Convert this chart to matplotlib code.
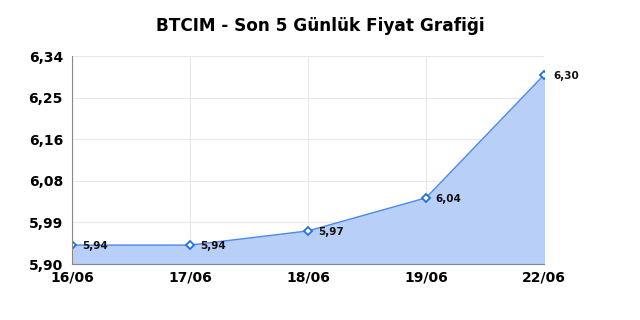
import matplotlib
matplotlib.use("Agg")
import matplotlib.pyplot as plt
import numpy as np

dates = ["16/06", "17/06", "18/06", "19/06", "22/06"]
prices = [5.94, 5.94, 5.97, 6.04, 6.30]
y_min, y_max = 5.90, 6.34

fig = plt.figure(figsize=(6.4, 3.2), dpi=100)
ax = fig.add_axes([72/640, 1 - 264/320, (544-72)/640, (264-56)/320])

x = np.arange(len(dates))
ax.fill_between(x, y_min, prices, color="#b8d0f8", zorder=2)
ax.plot(x, prices, color="#4f88f0", lw=1, zorder=3)
ax.plot(x, prices, ls="none", marker="D", ms=4.5, mfc="white", mec="#1f6fe8", mew=1.3, zorder=4)
for xi, p in zip(x, prices):
    ax.annotate(f"{p:.2f}".replace(".", ","), (xi, p), xytext=(7, -1), textcoords="offset points",
                va="center", ha="left", fontsize=7.5, fontweight="bold", color="#111111", zorder=5)

ax.set_xlim(0, len(dates) - 1)
ax.set_ylim(y_min, y_max)
yt = np.linspace(y_min, y_max, 6)
ax.set_yticks(yt)
ax.set_yticklabels([f"{v:.2f}".replace(".", ",") for v in yt])
ax.set_xticks(x)
ax.set_xticklabels(dates)
for lab in ax.get_xticklabels() + ax.get_yticklabels():
    lab.set_fontweight("bold")
    lab.set_fontsize(10)
ax.tick_params(length=0)
ax.tick_params(axis="x", pad=4.5)
ax.tick_params(axis="y", pad=6.5)
ax.grid(True, color="#e8e8e8", lw=0.8, zorder=0)
for s in ["top", "right"]:
    ax.spines[s].set_visible(False)
for s in ["left", "bottom"]:
    ax.spines[s].set_color("#888888")
    ax.spines[s].set_zorder(6)

fig.text(0.5, 1 - 26/320, "BTCIM - Son 5 Günlük Fiyat Grafiği", ha="center", va="center",
         fontsize=12.2, fontweight="bold")

fig.savefig("out.png", dpi=100)
